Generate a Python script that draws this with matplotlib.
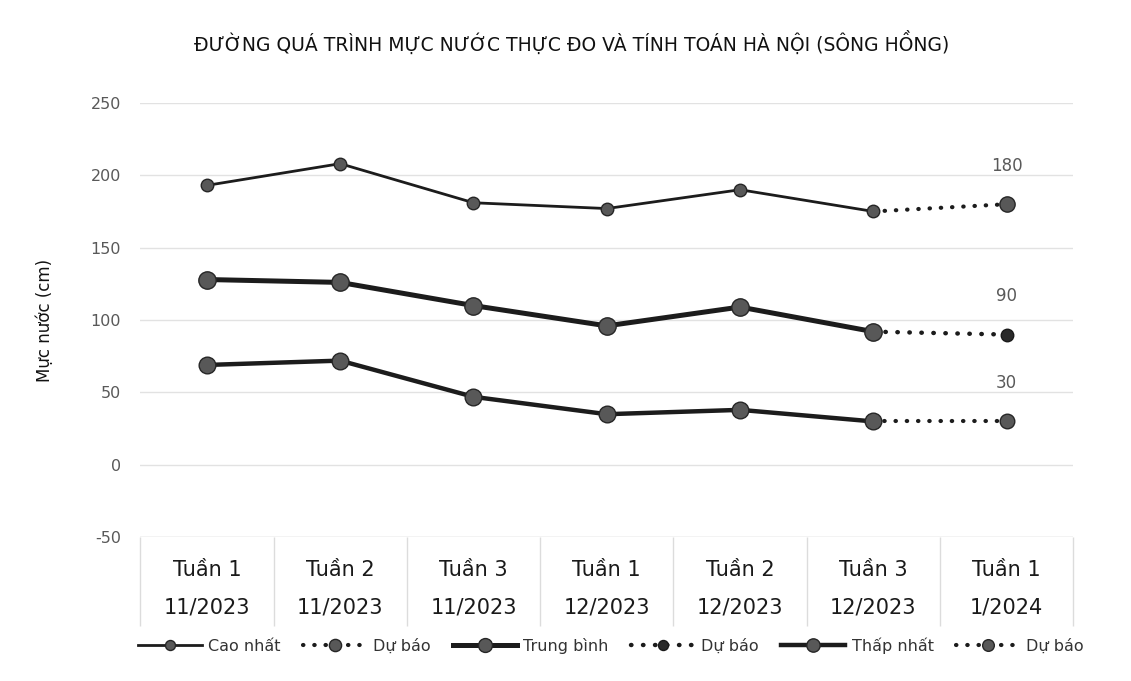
import matplotlib
matplotlib.use("Agg")
import matplotlib.pyplot as plt
import matplotlib.transforms as mtransforms
import numpy as np

plt.rcParams['font.family'] = ['DejaVu Sans']

# categories (two-line tick labels)
tuan = ["Tuần 1", "Tuần 2", "Tuần 3", "Tuần 1", "Tuần 2", "Tuần 3", "Tuần 1"]
thang = ["11/2023", "11/2023", "11/2023", "12/2023", "12/2023", "12/2023", "1/2024"]

# measured values (cm), first six weeks
cao_nhat = [193, 208, 181, 177, 190, 175]
trung_binh = [128, 126, 110, 96, 109, 92]
thap_nhat = [69, 72, 47, 35, 38, 30]

# forecast for Tuần 1 1/2024
cao_du_bao = 180
tb_du_bao = 90
tn_du_bao = 30

yticks = [-50, 0, 50, 100, 150, 200, 250]

line_c = "#1c1c1c"
mk_face = "#585858"
mk_edge = "#262626"
gray_txt = "#595959"

fig = plt.figure(figsize=(11.31, 6.81), dpi=100)
ax = fig.add_axes([0.124, 0.211, 0.825, 0.638])

n = len(tuan)
xs = np.arange(n)
xa = xs[:len(cao_nhat)]
dot = (0, (0.1, 2.6))

# measured series
l1, = ax.plot(xa, cao_nhat, color=line_c, lw=2.0, marker="o", ms=9,
              mfc=mk_face, mec=mk_edge, mew=1, zorder=4)
l3, = ax.plot(xa, trung_binh, color=line_c, lw=3.6, marker="o", ms=12.5,
              mfc=mk_face, mec=mk_edge, mew=1, zorder=4)
l5, = ax.plot(xa, thap_nhat, color=line_c, lw=3.2, marker="o", ms=12,
              mfc=mk_face, mec=mk_edge, mew=1, zorder=4)

# forecast series (dotted from last measured value)
fx = [xs[-2], xs[-1]]
l2, = ax.plot(fx, [cao_nhat[-1], cao_du_bao], color=line_c, lw=3, ls=dot,
              dash_capstyle="round", marker="o", ms=11, markevery=[1],
              mfc=mk_face, mec=mk_edge, mew=1, zorder=3)
l4, = ax.plot(fx, [trung_binh[-1], tb_du_bao], color=line_c, lw=3.2, ls=dot,
              dash_capstyle="round", marker="o", ms=9, markevery=[1],
              mfc="#2a2a2a", mec="#1a1a1a", mew=1, zorder=3)
l6, = ax.plot(fx, [thap_nhat[-1], tn_du_bao], color=line_c, lw=3, ls=dot,
              dash_capstyle="round", marker="o", ms=10.5, markevery=[1],
              mfc=mk_face, mec=mk_edge, mew=1, zorder=3)

# data labels on forecast points
for v in [cao_du_bao, tb_du_bao, tn_du_bao]:
    ax.annotate(str(v), (xs[-1], v), xytext=(0, 21), textcoords="offset points",
                ha="center", va="bottom", fontsize=12, color=gray_txt)

ax.set_xlim(-0.5, n - 0.5)
ax.set_ylim(-50, 250)
ax.set_yticks(yticks)
ax.set_yticklabels([str(v) for v in yticks], fontsize=11.5, color=gray_txt)
ax.yaxis.grid(True, color="#e2e2e2", lw=1)
ax.set_axisbelow(True)
ax.tick_params(axis="y", length=0, pad=14)

ax.set_xticks(xs)
ax.set_xticklabels([a + "\n" + b for a, b in zip(tuan, thang)], fontsize=15,
                   color="#1a1a1a", linespacing=2.15)
ax.tick_params(axis="x", length=0, pad=16)

for s in ax.spines.values():
    s.set_visible(False)

# category separators below the plot
trans = mtransforms.blended_transform_factory(ax.transData, ax.transAxes)
ax.vlines(np.arange(n + 1) - 0.5, -0.205, 0, transform=trans, color="#dcdcdc",
          lw=1, clip_on=False)
ax.axhline(-50, color="#dcdcdc", lw=1)

ax.set_ylabel("Mực nước (cm)", fontsize=12, color="#111111", labelpad=26)

fig.suptitle("ĐƯỜNG QUÁ TRÌNH MỰC NƯỚC THỰC ĐO VÀ TÍNH TOÁN HÀ NỘI (SÔNG HỒNG)",
             x=0.505, y=0.955, fontsize=13.5, color="#111111")

fig.legend([l1, l2, l3, l4, l5, l6],
           ["Cao nhất", "Dự báo", "Trung bình", "Dự báo", "Thấp nhất", "Dự báo"],
           loc="center", bbox_to_anchor=(0.54, 0.052), ncol=6, frameon=False,
           fontsize=11.5, labelcolor="#333333", handlelength=4.0,
           columnspacing=1.4, handletextpad=0.4, markerscale=0.8)

fig.savefig("out.png", dpi=100)
